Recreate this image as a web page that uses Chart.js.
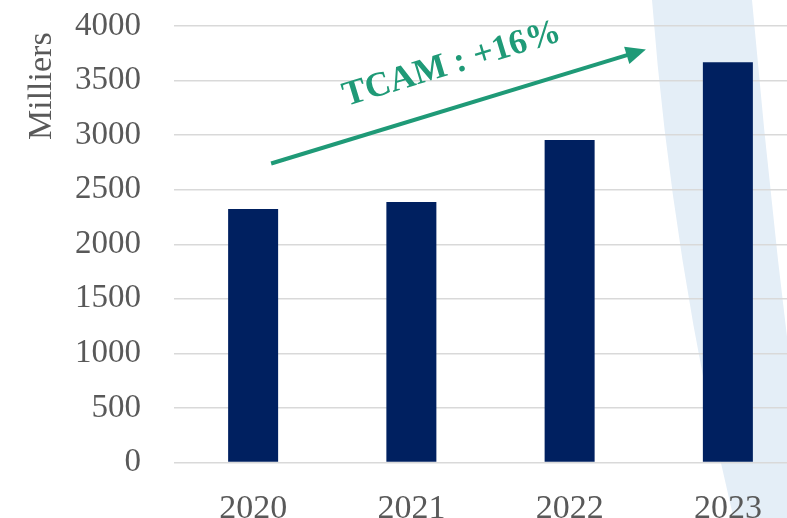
<!DOCTYPE html>
<html><head><meta charset="utf-8">
<script src="https://cdn.jsdelivr.net/npm/chart.js@4"></script>
<style>
html,body{margin:0;padding:0;overflow:hidden;background:#fff;width:787px;height:518px}
#wrap{position:absolute;left:0;top:0;width:830px;height:530px}
</style></head>
<body><div id="wrap"><canvas id="c"></canvas></div>
<script>
const categories = ['2020', '2021', '2022', '2023'];
const values = [2323, 2387, 2955, 3667];
const yMin = 0, yMax = 4000, yStep = 500;
const axisTitle = 'Milliers';
const annotationText = 'TCAM : +16%';
const arrowFrom = { cat: 0, value: 2740 };
const arrowTo = { cat: 3, value: 3785 };

const FONT = "'Liberation Serif', 'Times New Roman', serif";
const GREY = '#595959';
const GREEN = '#1F9A77';

const bandPlugin = {
  id: 'band',
  beforeDraw(chart) {
    const ctx = chart.ctx;
    ctx.save();
    ctx.fillStyle = '#E4EEF7';
    ctx.beginPath();
    ctx.moveTo(652, 0);
    ctx.quadraticCurveTo(672, 260, 734, 520);
    ctx.lineTo(810, 520);
    ctx.quadraticCurveTo(775, 260, 752, 0);
    ctx.closePath();
    ctx.fill();
    ctx.restore();
  }
};

const titlePlugin = {
  id: 'ytitle',
  afterDraw(chart) {
    const ctx = chart.ctx;
    ctx.save();
    ctx.translate(42, 140);
    ctx.rotate(-Math.PI / 2);
    ctx.font = "34px " + FONT;
    ctx.fillStyle = GREY;
    ctx.textAlign = 'left';
    ctx.textBaseline = 'middle';
    ctx.fillText(axisTitle, 0, 0);
    ctx.restore();
  }
};

const arrowPlugin = {
  id: 'arrow',
  afterDraw(chart) {
    const xs = chart.scales.x, ys = chart.scales.y, ctx = chart.ctx;
    const x0 = xs.getPixelForValue(arrowFrom.cat) + 18, y0 = ys.getPixelForValue(arrowFrom.value);
    const x1 = xs.getPixelForValue(arrowTo.cat) - 82, y1 = ys.getPixelForValue(arrowTo.value);
    const a = Math.atan2(y1 - y0, x1 - x0);
    const head = 20, hw = 9;
    ctx.save();
    ctx.strokeStyle = GREEN; ctx.fillStyle = GREEN; ctx.lineWidth = 4;
    ctx.beginPath();
    ctx.moveTo(x0, y0);
    ctx.lineTo(x1 - Math.cos(a) * (head - 2), y1 - Math.sin(a) * (head - 2));
    ctx.stroke();
    ctx.beginPath();
    ctx.moveTo(x1, y1);
    const bx = x1 - Math.cos(a) * head, by = y1 - Math.sin(a) * head;
    ctx.lineTo(bx + Math.sin(a) * hw, by - Math.cos(a) * hw);
    ctx.lineTo(bx - Math.sin(a) * hw, by + Math.cos(a) * hw);
    ctx.closePath();
    ctx.fill();
    const mx = (x0 + x1) / 2 + Math.cos(a) * 6, my = (y0 + y1) / 2 + Math.sin(a) * 6;
    const d = 42;
    const tx = mx + Math.sin(a) * d, ty = my - Math.cos(a) * d;
    ctx.translate(tx, ty);
    ctx.rotate(a);
    ctx.font = "bold 35px " + FONT;
    ctx.textAlign = 'center';
    ctx.textBaseline = 'middle';
    ctx.fillText(annotationText, 0, 0);
    ctx.restore();
  }
};

new Chart(document.getElementById('c'), {
  type: 'bar',
  data: {
    labels: categories,
    datasets: [{
      data: values,
      backgroundColor: '#002060',
      borderWidth: 0,
      barPercentage: 0.316,
      categoryPercentage: 1
    }]
  },
  options: {
    responsive: true,
    maintainAspectRatio: false,
    animation: false,
    devicePixelRatio: 1,
    layout: { padding: { left: 18, right: 23, top: 0, bottom: 0 } },
    plugins: { legend: { display: false }, tooltip: { enabled: false } },
    scales: {
      x: {
        grid: { display: false, drawTicks: false },
        border: { display: false },
        ticks: { font: { family: FONT, size: 34 }, color: GREY, padding: 26 },
        afterFit(s) { s.height = 67.5; s.paddingLeft = 0; s.paddingRight = 0; }
      },
      y: {
        min: yMin, max: yMax,
        ticks: { stepSize: yStep, font: { family: FONT, size: 33 }, color: GREY, padding: 33,
                 callback: v => String(v) },
        grid: { color: '#D9D9D9', lineWidth: 1.5, drawTicks: false },
        border: { display: false },
        title: { display: false },
        afterFit(s) { s.width = 156; s.paddingTop = 26; s.paddingBottom = 0; }
      }
    }
  },
  plugins: [bandPlugin, arrowPlugin, titlePlugin]
});
</script>
</body></html>
